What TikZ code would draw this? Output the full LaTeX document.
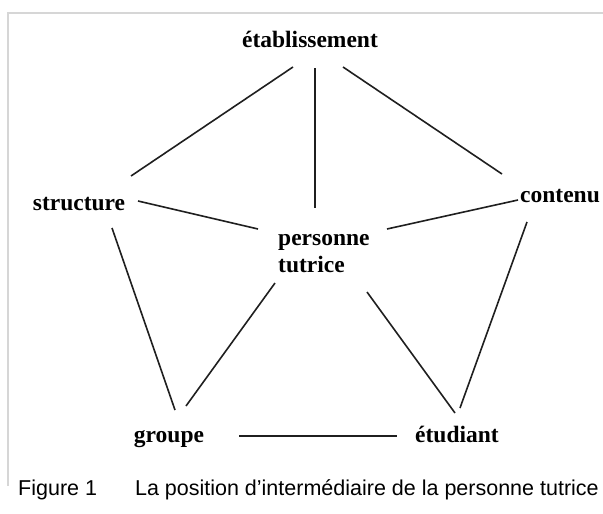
\documentclass[tikz,border=0pt]{standalone}
\usepackage{fontspec}
\usepackage{tikz}
\setmainfont{Liberation Serif}
\newfontfamily\capfont{Liberation Sans}

\begin{document}
\begin{tikzpicture}[x=1pt, y=-1pt,
	word/.style={font=\fontsize{23.5}{27}\selectfont\bfseries, inner sep=0pt, anchor=base},
	link/.style={line width=1.6pt, color=black!88}]
	
	\useasboundingbox (0,0) rectangle (603,514);
	\draw[line width=1.5pt, color=black!16] (603,13) -- (8,13) -- (8,486);
	
	\node[word] (etab)   at (310, 47)  {établissement};
	\node[word] (struct) at (79, 210)  {structure};
	\node[word] (cont)   at (560, 202) {contenu};
	\node[word, anchor=base west, align=left] (pers) at (278, 272) {personne\\tutrice};
	\node[word] (grp)    at (169, 442) {groupe};
	\node[word] (etud)   at (457, 442) {étudiant};
	
	\node[font=\capfont\fontsize{21.5}{24}\selectfont, anchor=base west, inner sep=0pt] (cap) at (18, 495)
		{Figure 1\hspace{38pt}La position d’intermédiaire de la personne tutrice};
	
	\draw[link] ([shift={(-17,20)}]etab.base) -- ([shift={(52,-34)}]struct.base);
	\draw[link] ([shift={(5,21)}]etab.base)   -- ([shift={(37,-64)}]pers.base west);
	\draw[link] ([shift={(33,20)}]etab.base)  -- ([shift={(-58,-28)}]cont.base);
	\draw[link] ([shift={(59,-9)}]struct.base) -- ([shift={(-20,-43)}]pers.base west);
	\draw[link] ([shift={(-42,-2)}]cont.base)  -- ([shift={(109,-43)}]pers.base west);
	\draw[link] ([shift={(33,18)}]struct.base) -- ([shift={(6,-32)}]grp.base);
	\draw[link] ([shift={(-3,11)}]pers.base west) -- ([shift={(17,-36)}]grp.base);
	\draw[link] ([shift={(89,20)}]pers.base west) -- ([shift={(-2,-29)}]etud.base);
	\draw[link] ([shift={(-33,20)}]cont.base)  -- ([shift={(3,-34)}]etud.base);
	\draw[link] ([shift={(70,-6)}]grp.base)    -- ([shift={(-60,-6)}]etud.base);

\end{tikzpicture}
\end{document}
